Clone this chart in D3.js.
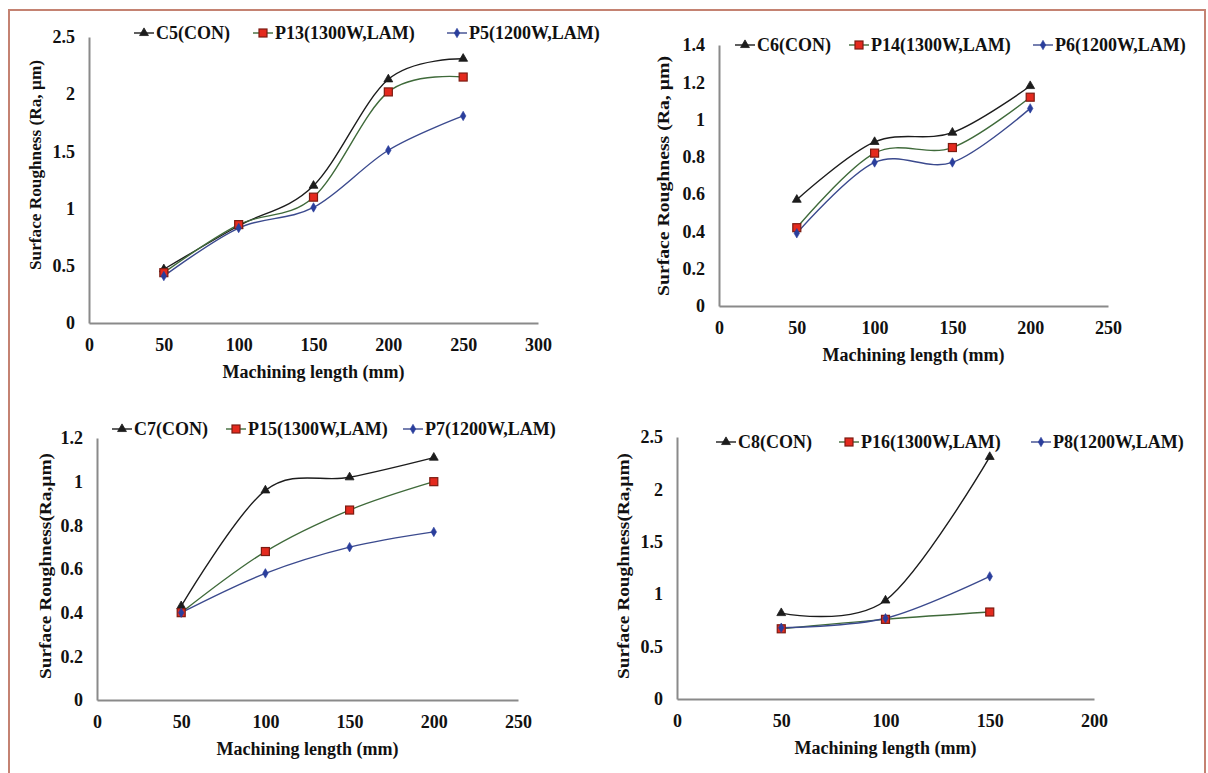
<!DOCTYPE html>
<html>
<head>
<meta charset="utf-8">
<script src="https://cdn.jsdelivr.net/npm/d3@7"></script>
<style>
  html, body { margin: 0; padding: 0; background: #fff; }
  svg { display: block; }
  text { font-family: "Liberation Serif", "Times New Roman", serif; font-weight: bold; fill: #111; }
</style>
</head>
<body>
<svg id="fig" width="1208" height="773"></svg>
<script>
// Surface roughness (Ra, µm) against machining length (mm), four test groups.
// Each group: conventional (CON), laser-assisted at 1300 W and at 1200 W.

const lengthsA = [50, 100, 150, 200, 250];
const c5  = [0.47, 0.85, 1.20, 2.13, 2.31];
const p13 = [0.44, 0.86, 1.10, 2.02, 2.15];
const p5  = [0.41, 0.83, 1.01, 1.51, 1.81];

const lengthsB = [50, 100, 150, 200];
const c6  = [0.57, 0.88, 0.93, 1.18];
const p14 = [0.42, 0.82, 0.85, 1.12];
const p6  = [0.39, 0.77, 0.77, 1.06];

const lengthsC = [50, 100, 150, 200];
const c7  = [0.43, 0.96, 1.02, 1.11];
const p15 = [0.40, 0.68, 0.87, 1.00];
const p7  = [0.40, 0.58, 0.70, 0.77];

const lengthsD = [50, 100, 150];
const c8  = [0.82, 0.94, 2.31];
const p16 = [0.67, 0.76, 0.83];
const p8  = [0.68, 0.77, 1.17];

const namesA = ["C5(CON)", "P13(1300W,LAM)", "P5(1200W,LAM)"];
const namesB = ["C6(CON)", "P14(1300W,LAM)", "P6(1200W,LAM)"];
const namesC = ["C7(CON)", "P15(1300W,LAM)", "P7(1200W,LAM)"];
const namesD = ["C8(CON)", "P16(1300W,LAM)", "P8(1200W,LAM)"];

const xTicksA = [0, 50, 100, 150, 200, 250, 300];
const xTicksB = [0, 50, 100, 150, 200, 250];
const xTicksC = [0, 50, 100, 150, 200, 250];
const xTicksD = [0, 50, 100, 150, 200];

const yTicksA = [0, 0.5, 1, 1.5, 2, 2.5];
const yTicksB = [0, 0.2, 0.4, 0.6, 0.8, 1, 1.2, 1.4];
const yTicksC = [0, 0.2, 0.4, 0.6, 0.8, 1, 1.2];
const yTicksD = [0, 0.5, 1, 1.5, 2, 2.5];

const xTitle = "Machining length (mm)";
const yTitles = ["Surface Roughness (Ra, \u00b5m)", "Surface Roughness (Ra, \u00b5m)",
                 "Surface Roughness(Ra,\u00b5m)", "Surface Roughness(Ra,\u00b5m)"];

// series styling: conventional, 1300 W, 1200 W
const styles = [
  { line: "#1c1c1c", marker: "triangle", fill: "#1c1c1c", stroke: "#1c1c1c" },
  { line: "#3f6a3a", marker: "square",   fill: "#e42a1e", stroke: "#7c1c12" },
  { line: "#3b4a8e", marker: "diamond",  fill: "#2a3e9c", stroke: "#2a3e9c" }
];

const svg = d3.select("#fig");

// outer frame
svg.append("path")
  .attr("d", "M9,1000 L9,10 L1205,10 L1205,1000")
  .attr("fill", "none").attr("stroke", "#c48272").attr("stroke-width", 2);

const panels = [
  { xs: lengthsA, series: [c5, p13, p5], names: namesA, xTicks: xTicksA, yTicks: yTicksA,
    box: { l: 89, r: 538, t: 37, b: 323 }, xMax: 300, yMax: 2.5,
    yTitle: yTitles[0], yTitleX: 35, yTitleC: 165, yTitleLen: 210,
    legendY: 33, legendX: [134, 253, 447] },
  { xs: lengthsB, series: [c6, p14, p6], names: namesB, xTicks: xTicksB, yTicks: yTicksB,
    box: { l: 719, r: 1108, t: 45, b: 306 }, xMax: 250, yMax: 1.4,
    yTitle: yTitles[1], yTitleX: 663, yTitleC: 176, yTitleLen: 240,
    legendY: 45, legendX: [735, 849, 1033] },
  { xs: lengthsC, series: [c7, p15, p7], names: namesC, xTicks: xTicksC, yTicks: yTicksC,
    box: { l: 97, r: 518, t: 438, b: 700 }, xMax: 250, yMax: 1.2,
    yTitle: yTitles[2], yTitleX: 45, yTitleC: 566, yTitleLen: 226,
    legendY: 429, legendX: [112, 226, 403] },
  { xs: lengthsD, series: [c8, p16, p8], names: namesD, xTicks: xTicksD, yTicks: yTicksD,
    box: { l: 677, r: 1094, t: 437, b: 699 }, xMax: 200, yMax: 2.5,
    yTitle: yTitles[3], yTitleX: 623, yTitleC: 566, yTitleLen: 226,
    legendY: 442, legendX: [716, 839, 1031] }
];

function drawMarker(g, kind, x, y, st) {
  if (kind === "triangle") {
    g.append("path")
      .attr("d", d3.symbol(d3.symbolTriangle, 34)())
      .attr("transform", `translate(${x},${y})`)
      .attr("fill", st.fill).attr("stroke", st.stroke).attr("stroke-width", 0.8);
  } else if (kind === "square") {
    g.append("rect")
      .attr("x", x - 4).attr("y", y - 4).attr("width", 8).attr("height", 8)
      .attr("fill", st.fill).attr("stroke", st.stroke).attr("stroke-width", 1.2);
  } else {
    g.append("path")
      .attr("d", d3.symbol(d3.symbolDiamond, 26)())
      .attr("transform", `translate(${x},${y})`)
      .attr("fill", st.fill).attr("stroke", st.stroke).attr("stroke-width", 0.6);
  }
}

const fmt = v => String(v);

panels.forEach(p => {
  const g = svg.append("g");
  const x = d3.scaleLinear().domain([0, p.xMax]).range([p.box.l, p.box.r]);
  const y = d3.scaleLinear().domain([0, p.yMax]).range([p.box.b, p.box.t]);

  // axes
  const xa = g.append("g").attr("transform", `translate(0,${p.box.b})`)
    .call(d3.axisBottom(x).tickValues(p.xTicks).tickSize(0).tickPadding(15).tickFormat(fmt));
  const ya = g.append("g").attr("transform", `translate(${p.box.l},0)`)
    .call(d3.axisLeft(y).tickValues(p.yTicks).tickSize(0).tickPadding(14).tickFormat(fmt));
  [xa, ya].forEach(a => {
    a.select(".domain").attr("stroke", "#8a8a8a").attr("stroke-width", 2);
    a.selectAll("text").attr("font-family", "Liberation Serif").attr("font-weight", "bold")
      .attr("font-size", 18).attr("fill", "#111");
  });

  // axis titles
  g.append("text")
    .attr("x", (p.box.l + p.box.r) / 2).attr("y", p.box.b + 55)
    .attr("text-anchor", "middle").attr("font-size", 18)
    .text(xTitle);
  g.append("text")
    .attr("transform", `translate(${p.yTitleX},${p.yTitleC}) rotate(-90)`)
    .attr("text-anchor", "middle").attr("dominant-baseline", "central")
    .attr("font-size", 17)
    .attr("textLength", p.yTitleLen).attr("lengthAdjust", "spacingAndGlyphs")
    .text(p.yTitle);

  // smoothed series lines and markers
  const line = d3.line()
    .x(d => x(d[0])).y(d => y(d[1]))
    .curve(d3.curveCardinal.tension(0));

  p.series.forEach((vals, i) => {
    const st = styles[i];
    const pts = p.xs.map((xv, k) => [xv, vals[k]]);
    g.append("path").datum(pts)
      .attr("d", line).attr("fill", "none")
      .attr("stroke", st.line).attr("stroke-width", 1.4);
  });
  p.series.forEach((vals, i) => {
    const st = styles[i];
    p.xs.forEach((xv, k) => drawMarker(g, st.marker, x(xv), y(vals[k]), st));
  });

  // legend
  p.names.forEach((name, i) => {
    const st = styles[i];
    const lx = p.legendX[i];
    g.append("line")
      .attr("x1", lx).attr("x2", lx + 20)
      .attr("y1", p.legendY).attr("y2", p.legendY)
      .attr("stroke", st.line).attr("stroke-width", 1.4);
    drawMarker(g, st.marker, lx + 10, p.legendY, st);
    g.append("text")
      .attr("x", lx + 22).attr("y", p.legendY)
      .attr("dominant-baseline", "central").attr("font-size", 18)
      .text(name);
  });
});
</script>
</body>
</html>
